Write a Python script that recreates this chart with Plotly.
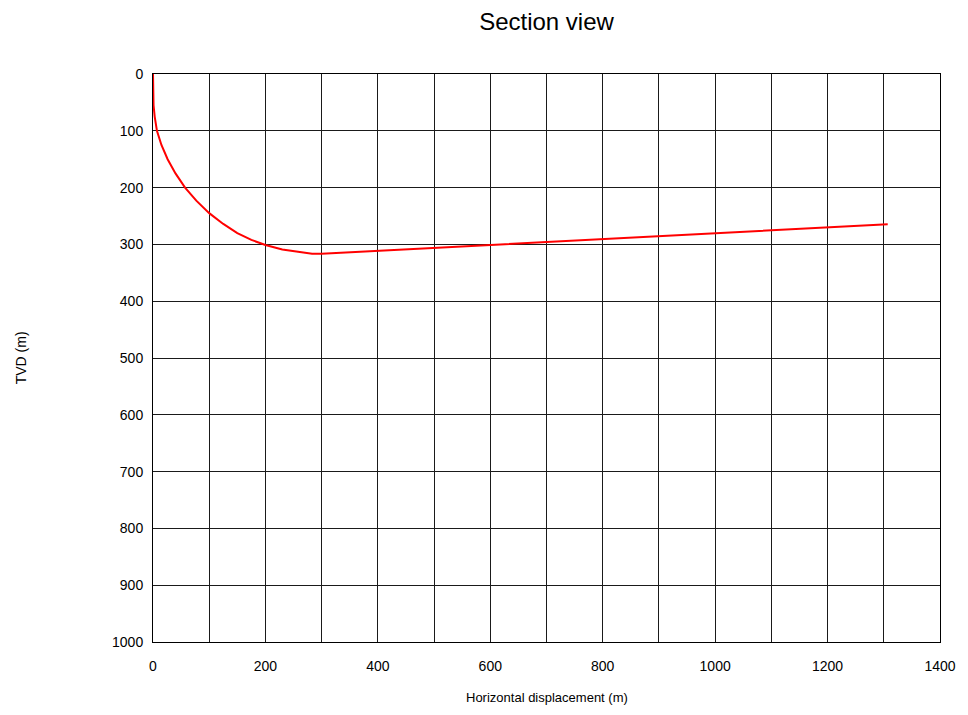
import plotly.graph_objects as go

# Horizontal displacement (m) and TVD (m)
hd = [0, 0, 1, 3, 7, 15, 26, 40, 57, 77, 100, 125, 150, 175, 200, 230, 260, 283, 300, 600, 1100, 1307]
tvd = [0, 30, 55, 75, 100, 125, 150, 175, 200, 223, 245, 264, 280, 292, 301, 309, 314, 316.5, 316.5, 301, 276, 264.6]

x_ticks = [0, 200, 400, 600, 800, 1000, 1200, 1400]
y_ticks = [0, 100, 200, 300, 400, 500, 600, 700, 800, 900, 1000]

FONT = "Liberation Sans, Arial, sans-serif"
GRID = "#1a1a1a"

W, H = 968, 715

fig = go.Figure()
fig.add_trace(go.Scatter(x=hd, y=tvd, mode="lines", hoverinfo="skip",
                         line=dict(color="#ff0000", width=2), showlegend=False))

fig.update_layout(
    width=W, height=H,
    paper_bgcolor="white", plot_bgcolor="white",
    hovermode=False,
    margin=dict(l=153, r=20, t=74, b=73),
    title=dict(text="Section view", x=0.5, xref="paper", y=1 - 22 / H,
               yref="container", xanchor="center", yanchor="middle",
               font=dict(family=FONT, size=24, color="black")),
    font=dict(family=FONT, size=14, color="black"),
    xaxis=dict(range=[0, 1400], tickvals=x_ticks, ticktext=[str(v) for v in x_ticks],
               showgrid=True, gridcolor=GRID, gridwidth=1,
               minor=dict(dtick=100, tick0=0, showgrid=True, gridcolor=GRID, gridwidth=1),
               showline=True, linecolor="black", linewidth=1, mirror=True,
               ticks="", ticklabelstandoff=11, zeroline=False,
               tickfont=dict(family=FONT, size=14, color="black")),
    yaxis=dict(range=[1000, 0], tickvals=y_ticks, ticktext=[str(v) for v in y_ticks],
               showgrid=True, gridcolor=GRID, gridwidth=1,
               showline=True, linecolor="black", linewidth=1, mirror=True,
               ticks="", ticklabelstandoff=6, zeroline=False,
               tickfont=dict(family=FONT, size=14, color="black")),
    annotations=[
        dict(text="TVD (m)", xref="paper", yref="paper", x=-133 / 795, y=0.5,
             xanchor="center", yanchor="middle", textangle=-90, showarrow=False,
             font=dict(family=FONT, size=14, color="black")),
        dict(text="Horizontal displacement (m)", xref="paper", yref="paper",
             x=0.5, y=-55 / 568, xanchor="center", yanchor="middle", showarrow=False,
             font=dict(family=FONT, size=13, color="black")),
    ],
)

fig.write_html("out.html", config={"displayModeBar": False, "staticPlot": True},
               post_script="document.body.style.margin='0';")
